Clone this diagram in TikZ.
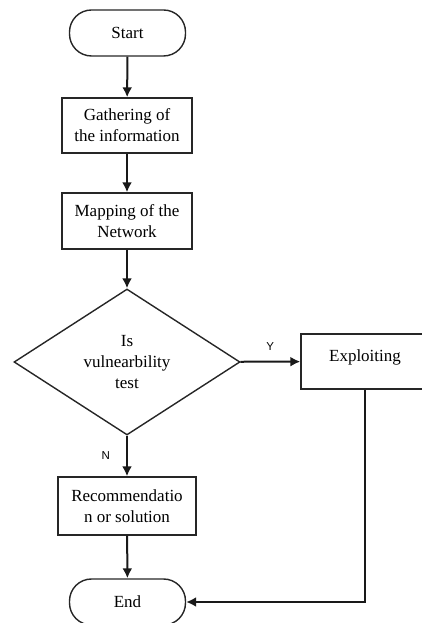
\documentclass[tikz,border=0pt]{standalone}
\usepackage{fontspec}
\setmainfont{Liberation Serif}
\newfontfamily\yesnofont{Liberation Sans}
\usetikzlibrary{arrows.meta,shapes.geometric}

\begin{document}
\begin{tikzpicture}[x=1pt, y=1pt,
		every node/.style={font=\fontsize{17}{21}\selectfont, align=center, inner sep=0pt},
		terminal/.style={draw=black!85, line width=1.4pt, rounded corners=22pt, minimum width=116pt, minimum height=46pt},
		process/.style={draw=black!85, line width=1.4pt, minimum width=130pt, minimum height=55pt},
		decision/.style={draw=black!85, line width=1.4pt, diamond, aspect=1.55, minimum width=226pt, minimum height=146pt},
		flow/.style={draw=black!90, line width=2pt, -{Latex[length=10pt, width=10pt]}},
		yesno/.style={font=\yesnofont\fontsize{11.5}{13}\selectfont}]
		\useasboundingbox (0, 0) rectangle (421, 623);
		
		\node [terminal] (start) at (127.5, 590) {Start};
		\node [process] (gather) at (127, 497.5) {Gathering of\\the information};
		\node [process, minimum height=56pt] (mapping) at (127, 402) {Mapping of the\\Network};
		\node [decision] (test) at (127, 261) {Is\\vulnearbility\\test};
		\node [process, minimum width=128pt] (exploit) at (365, 261.5) {Exploiting\\[-16pt]\strut};
		\node [process, minimum width=138pt, minimum height=58pt] (recommend) at (127, 117) {Recommendatio\\n or solution};
		\node [terminal] (end) at (127.5, 21) {End};
		
		\draw [flow] (start) -- (gather);
		\draw [flow] (gather) -- (mapping);
		\draw [flow] (mapping) -- (test);
		\draw [flow] (test) -- node [yesno, above=10pt] {Y} (exploit);
		\draw [flow] (test) -- node [yesno, left=16pt] {N} (recommend);
		\draw [flow] (recommend) -- (end);
		\draw [flow] (exploit) |- (end); %back to the end
	\end{tikzpicture}
\end{document}
